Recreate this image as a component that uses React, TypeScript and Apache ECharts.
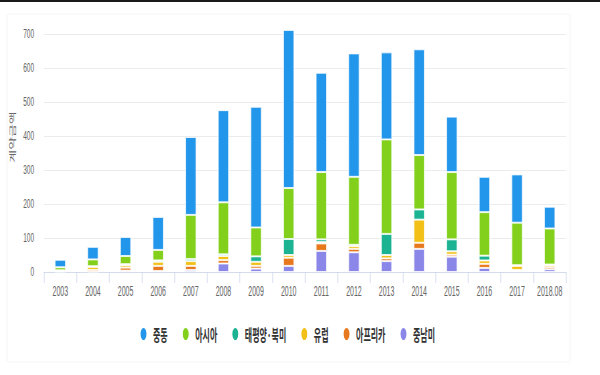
import React, { useEffect, useRef } from 'react';
import * as echarts from 'echarts';

// horizontal squish of the reference picture
const S = 0.5;
const W = 600 / S;
const H = 375;

const categories = ['2003', '2004', '2005', '2006', '2007', '2008', '2009', '2010', '2011', '2012', '2013', '2014', '2015', '2016', '2017', '2018.08'];
const seriesNames = ['중동', '아시아', '태평양·북미', '유럽', '아프리카', '중남미'];
const middleEast = [22, 37, 56, 97, 229, 271, 355, 465, 292, 363, 256, 311, 163, 104, 142, 64];
const asia = [9, 20, 24, 31, 130, 153, 85, 150, 198, 200, 278, 160, 198, 128, 125, 106];
const pacificNA = [1, 2, 3, 4, 6, 5, 16, 47, 8, 4, 62, 30, 35, 14, 2, 2];
const europe = [2, 9, 7, 12, 14, 12, 12, 8, 4, 8, 10, 68, 10, 10, 12, 6];
const africa = [1, 5, 9, 15, 12, 10, 8, 24, 22, 10, 8, 18, 6, 12, 3, 6];
const latinAmerica = [1, 1, 4, 3, 6, 25, 10, 18, 62, 58, 32, 68, 45, 12, 3, 8];
const yTicks = [0, 100, 200, 300, 400, 500, 600, 700];
const yAxisTitle = '계약금액';

const colors: Record<string, string> = {
  '중동': '#2196ea',
  '아시아': '#82d01c',
  '태평양·북미': '#1bb392',
  '유럽': '#f2c016',
  '아프리카': '#e8781e',
  '중남미': '#8b87e9',
};

const dataByName: Record<string, number[]> = {
  '중동': middleEast,
  '아시아': asia,
  '태평양·북미': pacificNA,
  '유럽': europe,
  '아프리카': africa,
  '중남미': latinAmerica,
};

const NUM_FONT = "'Liberation Sans', Arial, sans-serif";
const KR_FONT = "'Noto Sans CJK KR', 'Noto Sans', sans-serif";

export default function App() {
  const ref = useRef<HTMLDivElement>(null);
  useEffect(() => {
    if (!ref.current) return;
    const chart = echarts.init(ref.current, null, { renderer: 'svg' });
    const stackOrder = [...seriesNames].reverse();
    chart.setOption({
      animation: false,
      backgroundColor: '#ffffff',
      grid: { left: 44 / S, right: (600 - 566) / S, top: 34, bottom: H - 272, containLabel: false },
      legend: {
        data: seriesNames,
        left: 137 / S,
        top: 321,
        icon: 'circle',
        itemWidth: 14,
        itemHeight: 14,
        itemGap: 28,
        textStyle: { fontSize: 16, fontWeight: 'bold', color: '#333333', fontFamily: KR_FONT, padding: [0, 0, 0, 7] },
      },
      xAxis: {
        type: 'category',
        data: categories,
        axisLine: { lineStyle: { color: '#ccd6eb', width: 1 } },
        axisTick: { show: true, length: 11, lineStyle: { color: '#ccd6eb' } },
        axisLabel: { interval: 0, color: '#666666', fontSize: 14, fontFamily: NUM_FONT, margin: 12 },
      },
      yAxis: {
        type: 'value',
        min: yTicks[0],
        max: yTicks[yTicks.length - 1],
        interval: 100,
        axisLine: { show: false },
        axisTick: { show: false },
        splitLine: { lineStyle: { color: '#e6e6e6', width: 1 } },
        axisLabel: { color: '#666666', fontSize: 13, fontFamily: NUM_FONT, margin: 20 },
      },
      graphic: [
        { type: 'rect', shape: { x: 0, y: 0, width: W, height: 2 }, style: { fill: '#1a1a1a' }, silent: true },
        { type: 'rect', shape: { x: 7 / S, y: 14, width: (570 - 7) / S, height: 362 - 14 }, style: { fill: 'none', stroke: '#f3f3f3', lineWidth: 1 }, silent: true, z: -1 },
        {
          type: 'text',
          x: 12 / S,
          y: 137,
          rotation: Math.PI / 2,
          style: { text: yAxisTitle, fill: '#666666', font: `14px ${KR_FONT}`, align: 'center', verticalAlign: 'middle' },
        },
      ],
      series: stackOrder.map((name) => ({
        name,
        type: 'bar',
        stack: 'total',
        clip: false,
        data: dataByName[name],
        barWidth: 11 / S,
        itemStyle: { color: colors[name], borderColor: '#ffffff', borderWidth: 1 },
        emphasis: { disabled: true },
      })),
    });
    return () => chart.dispose();
  }, []);

  return (
    <div
      ref={ref}
      style={{
        position: 'absolute',
        left: 0,
        top: 0,
        width: W,
        height: H,
        transform: `scaleX(${S})`,
        transformOrigin: 'left top',
      }}
    />
  );
}
